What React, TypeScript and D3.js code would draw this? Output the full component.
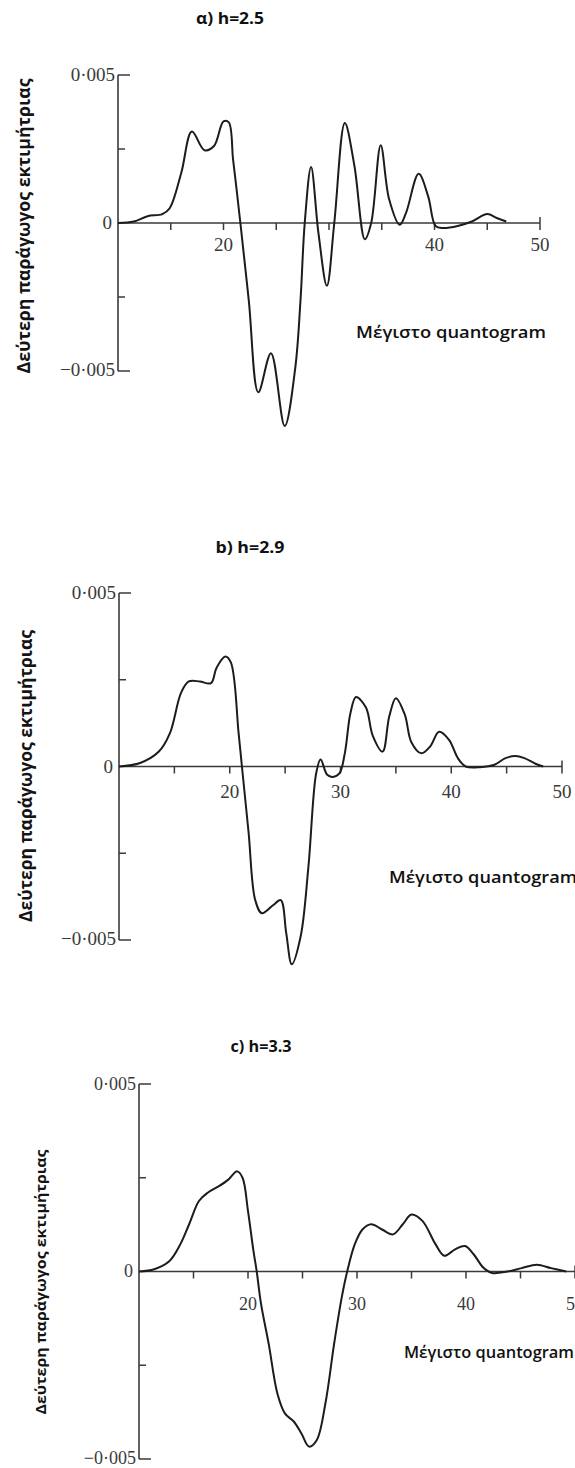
import React from 'react'
import * as d3 from 'd3'

// values in units of 10^-3
const xA = [10, 11.5, 12.8, 14.2, 14.9, 16.0, 17.0, 18.2, 19.1, 20.0, 20.5, 20.9, 21.2, 21.6, 22.4, 23.3, 24.5, 25.8, 26.8, 27.3, 27.7, 28.3, 29.0, 29.8, 30.5, 31.5, 32.4, 33.4, 34.0, 34.9, 35.7, 36.7, 37.3, 38.5, 39.4, 40.1, 40.8, 42.2, 43.6, 45.0, 45.9, 46.8]
const yA = [0, 0.05, 0.23, 0.3, 0.5, 1.7, 3.09, 2.46, 2.6, 3.43, 3.4, 2.17, 1.26, 0, -2.63, -5.72, -4.4, -6.86, -4.9, -2.6, 0, 1.89, -0.34, -2.12, 0, 3.38, 1.95, -0.55, 0, 2.63, 0.8, -0.06, 0.34, 1.66, 0.9, -0.1, -0.17, -0.1, 0.06, 0.3, 0.17, 0.05]

const xB = [10, 11.9, 13.6, 14.6, 15.6, 16.3, 17.3, 18.3, 18.8, 19.6, 20.1, 20.8, 21.1, 21.7, 22.3, 22.9, 23.9, 24.6, 25.1, 25.6, 26.4, 27.1, 27.8, 28.2, 28.8, 29.3, 29.9, 30.4, 30.9, 31.4, 32.3, 32.9, 33.8, 34.4, 35.0, 35.8, 36.4, 37.3, 38.1, 38.9, 39.8, 40.6, 41.3, 42.6, 43.9, 44.9, 45.8, 46.6, 47.6, 48.3]
const yB = [0, 0.1, 0.43, 0.96, 2.12, 2.45, 2.45, 2.4, 2.84, 3.17, 3.0, 0.96, 0, -1.9, -3.85, -4.23, -4.0, -3.85, -4.8, -5.7, -4.9, -2.9, -0.2, 0.2, -0.24, -0.3, -0.2, 0.4, 1.54, 2.0, 1.7, 0.9, 0.43, 1.44, 1.97, 1.5, 0.7, 0.38, 0.58, 1.0, 0.77, 0.24, 0, -0.02, 0.05, 0.24, 0.3, 0.24, 0.08, 0]

const xC = [10, 11.4, 12.8, 13.8, 14.6, 15.5, 16.3, 17.3, 18.2, 19.0, 19.5, 20.0, 20.5, 20.8, 21.2, 21.9, 22.7, 23.4, 24.2, 24.9, 25.6, 26.3, 27.1, 27.9, 28.6, 29.1, 29.8, 30.5, 31.3, 32.3, 33.3, 34.2, 35.0, 36.0, 37.2, 38.0, 39.0, 39.9, 40.7, 41.6, 42.4, 43.8, 45.1, 46.5, 47.8, 49.2]
const yC = [0, 0.06, 0.28, 0.73, 1.26, 1.88, 2.1, 2.27, 2.45, 2.67, 2.5, 1.61, 0.55, 0, -0.87, -1.93, -3.26, -3.79, -4.0, -4.32, -4.67, -4.5, -3.52, -1.93, -0.69, 0, 0.73, 1.12, 1.26, 1.12, 0.99, 1.26, 1.52, 1.35, 0.73, 0.42, 0.59, 0.68, 0.46, 0.1, -0.04, 0, 0.09, 0.18, 0.09, 0]

const xTicks = [15, 20, 25, 30, 35, 40, 45, 50]
const xLabelsA = [20, 40, 50]
const xLabelsBC = [20, 30, 40, 50]
const yTicks = [5, 2.5, 0, -2.5, -5]
const yTickLabels = [
  { v: 5, t: '0·005' },
  { v: 0, t: '0' },
  { v: -5, t: '−0·005' },
]
const yTitle = 'Δεύτερη παράγωγος εκτιμήτριας'
const xTitle = 'Μέγιστο quantogram'

const panels = [
  { title: 'α) h=2.5', xs: xA, ys: yA, xLabels: xLabelsA,
    left: 118, right: 540, top: 75, bottom: 371,
    titleX: 230, titleY: 24, titleLen: 68, tickSize: 19,
    yLabX: 23, yLabY: 226, yLabLen: 295, yLabSize: 17,
    qX: 356, qY: 338, qLen: 190, xLabDy: 28 },
  { title: 'b) h=2.9', xs: xB, ys: yB, xLabels: xLabelsBC,
    left: 119, right: 562, top: 593, bottom: 940,
    titleX: 250, titleY: 553, titleLen: 69, tickSize: 19,
    yLabX: 25, yLabY: 776, yLabLen: 292, yLabSize: 17,
    qX: 389, qY: 883, qLen: 188, xLabDy: 31 },
  { title: 'c) h=3.3', xs: xC, ys: yC, xLabels: xLabelsBC,
    left: 139, right: 575, top: 1084, bottom: 1459,
    titleX: 261, titleY: 1052, titleLen: 61, tickSize: 18,
    yLabX: 40, yLabY: 1282, yLabLen: 265, yLabSize: 15,
    qX: 404, qY: 1358, qLen: 170, xLabDy: 38 },
]

const ink = '#1c1c1c'
const axisInk = '#3a3a3a'
const serif = '"Liberation Serif", "DejaVu Serif", serif'
const sans = '"Open Sans", "Noto Sans", sans-serif'

function Panel({ p }) {
  const x = d3.scaleLinear().domain([10, 50]).range([p.left, p.right])
  const y = d3.scaleLinear().domain([-5, 5]).range([p.bottom, p.top])
  const line = d3.line().x(d => x(d[0])).y(d => y(d[1])).curve(d3.curveCatmullRom.alpha(0.5))
  const pts = p.xs.map((v, i) => [v, p.ys[i]])
  const y0 = y(0)

  return <g>
    <text x={p.titleX} y={p.titleY} textAnchor="middle" fontFamily={sans} fontWeight={700}
          fontSize={16} fill="#111" textLength={p.titleLen} lengthAdjust="spacingAndGlyphs">{p.title}</text>

    {/* y axis */}
    <line x1={x(10)} x2={x(10)} y1={y(5)} y2={y(-5)} stroke={axisInk} strokeWidth={1.6} />
    {yTicks.map(v => {
      const len = Math.abs(v) === 5 ? 12 : 7
      return <line key={v} x1={x(10)} x2={x(10) + (v === 0 ? 0 : len)} y1={y(v)} y2={y(v)}
                   stroke={axisInk} strokeWidth={1.5} />
    })}
    {yTickLabels.map(({ v, t }) =>
      <text key={v} x={x(10) - (v === 0 ? 6 : 3)} y={y(v) - (v === -5 ? 1 : 0)} dy="0.33em" textAnchor="end"
            fontFamily={serif} fontSize={p.tickSize} fill="#3a3a3a">{t}</text>)}

    {/* x axis */}
    <line x1={x(10)} x2={x(50)} y1={y0} y2={y0} stroke={axisInk} strokeWidth={1.6} />
    {xTicks.map(v =>
      <line key={v} x1={x(v)} x2={x(v)} y1={v === 50 ? y0 - 6 : y0} y2={y0 + 7}
            stroke={axisInk} strokeWidth={1.5} />)}
    {p.xLabels.map(v =>
      <text key={v} x={x(v)} y={y0 + p.xLabDy} textAnchor="middle" fontFamily={serif}
            fontSize={p.tickSize} fill="#3a3a3a">{v}</text>)}

    <path d={line(pts)} fill="none" stroke={ink} strokeWidth={2} strokeLinejoin="round" />

    <text transform={`translate(${p.yLabX},${p.yLabY}) rotate(-90)`} textAnchor="middle"
          dominantBaseline="central" fontFamily={sans} fontWeight={700} fontSize={p.yLabSize}
          fill="#141414" textLength={p.yLabLen} lengthAdjust="spacingAndGlyphs">{yTitle}</text>
    <text x={p.qX} y={p.qY} fontFamily={sans} fontWeight={600} fontSize={16} fill="#111"
          textLength={p.qLen} lengthAdjust="spacingAndGlyphs">{xTitle}</text>
  </g>
}

export default function App() {
  return <svg width={575} height={1468} style={{ position: 'absolute', left: 0, top: 0, background: '#fff' }}>
    <rect width={575} height={1468} fill="#fff" />
    {panels.map(p => <Panel key={p.title} p={p} />)}
  </svg>
}
